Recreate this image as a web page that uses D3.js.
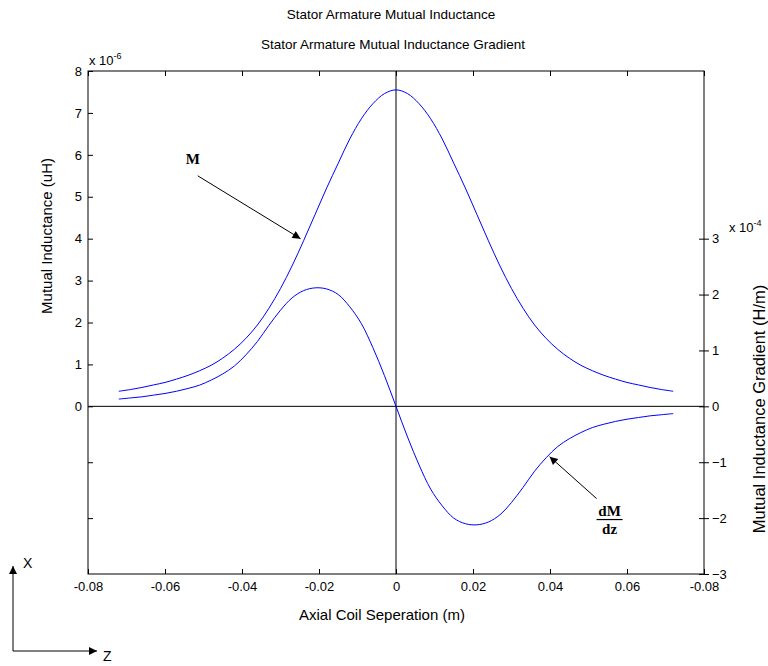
<!DOCTYPE html>
<html>
<head>
<meta charset="utf-8">
<script src="https://cdn.jsdelivr.net/npm/d3@7/dist/d3.min.js"></script>
<style>
  body { margin: 0; background: #fff; }
  text { font-family: "Liberation Sans", Arial, sans-serif; font-size: 13px; fill: #000; }
  .ann { font-family: "Liberation Serif", "DejaVu Serif", serif; font-weight: bold; font-size: 15px; }
</style>
</head>
<body>
<div id="chart"></div>
<script>
// axial position (m), shared by both curves
var zPos = [-0.072, -0.069, -0.066, -0.063, -0.060, -0.057, -0.054, -0.051, -0.048, -0.045,
  -0.042, -0.039, -0.036, -0.033, -0.030, -0.027, -0.024, -0.021, -0.018, -0.015, -0.012,
  -0.009, -0.006, -0.003, 0, 0.003, 0.006, 0.009, 0.012, 0.015, 0.018, 0.021, 0.024, 0.027,
  0.030, 0.033, 0.036, 0.039, 0.042, 0.045, 0.048, 0.051, 0.054, 0.057, 0.060, 0.063, 0.066,
  0.069, 0.072];

// mutual inductance, x 1e-6
var mutual = [0.36, 0.40, 0.45, 0.51, 0.57, 0.65, 0.74, 0.85, 0.98, 1.15,
  1.36, 1.62, 1.94, 2.34, 2.81, 3.35, 3.95, 4.58, 5.21, 5.80, 6.38,
  6.86, 7.22, 7.46, 7.55, 7.46, 7.22, 6.86, 6.38, 5.80, 5.21, 4.58, 3.95, 3.35,
  2.81, 2.34, 1.94, 1.62, 1.36, 1.15, 0.98, 0.85, 0.74, 0.65, 0.57, 0.51, 0.45,
  0.40, 0.36];

// gradient dM/dz, x 1e-4
var gradient = [0.13, 0.15, 0.17, 0.20, 0.23, 0.27, 0.32, 0.38, 0.47, 0.58,
  0.72, 0.92, 1.16, 1.45, 1.72, 1.94, 2.07, 2.12, 2.10, 2.00, 1.78,
  1.48, 1.05, 0.55, 0, -0.55, -1.05, -1.48, -1.78, -2.00, -2.10, -2.12, -2.07, -1.94,
  -1.72, -1.45, -1.16, -0.92, -0.72, -0.58, -0.47, -0.38, -0.32, -0.27, -0.23, -0.20, -0.17,
  -0.15, -0.13];

var xTicks = [-0.08, -0.06, -0.04, -0.02, 0, 0.02, 0.04, 0.06, 0.08];
var xTickLabels = ["-0.08", "-0.06", "-0.04", "-0.02", "0", "0.02", "0.04", "0.06", "-0.08"];
var leftTicks = [0, 1, 2, 3, 4, 5, 6, 7, 8];
var rightTicks = [-3, -2, -1, 0, 1, 2, 3];
var leftExtraTicks = [-1, -2];   // right-axis ticks repeated on the left side

var svg_dx = 768, svg_dy = 666;
var box = { left: 88, right: 704, top: 71, bottom: 574 };

var x = d3.scaleLinear().domain([-0.08, 0.08]).range([box.left, box.right]);
var yL = d3.scaleLinear().domain([-4, 8]).range([box.bottom, box.top]);
var yR = d3.scaleLinear().domain([-3, 6]).range([box.bottom, box.top]);

var svg = d3.select("#chart").append("svg")
  .attr("width", svg_dx)
  .attr("height", svg_dy);

var defs = svg.append("defs");
defs.append("marker")
  .attr("id", "head")
  .attr("viewBox", "0 0 10 10")
  .attr("refX", 10).attr("refY", 5)
  .attr("markerWidth", 12).attr("markerHeight", 8)
  .attr("markerUnits", "userSpaceOnUse")
  .attr("orient", "auto")
  .append("path").attr("d", "M0,0 L10,5 L0,10 z").attr("fill", "#000");

// titles
svg.append("text").attr("x", 391).attr("y", 19).attr("text-anchor", "middle")
  .style("font-size", "13.5px").text("Stator Armature Mutual Inductance");
svg.append("text").attr("x", 393).attr("y", 49).attr("text-anchor", "middle")
  .style("font-size", "13.5px").text("Stator Armature Mutual Inductance Gradient");

// axes
function clean(g) { g.select(".domain").remove(); g.selectAll("text").attr("font-size", null).attr("font-family", null); }

svg.append("g")
  .attr("transform", "translate(0," + box.bottom + ")")
  .call(d3.axisBottom(x).tickValues(xTicks).tickSize(-5).tickSizeOuter(0).tickPadding(8)
    .tickFormat(function(d, i) { return xTickLabels[i]; }))
  .call(clean);

svg.append("g")
  .attr("transform", "translate(0," + box.top + ")")
  .call(d3.axisTop(x).tickValues(xTicks).tickSize(-5).tickSizeOuter(0).tickFormat(""))
  .call(clean);

svg.append("g")
  .attr("transform", "translate(" + box.left + ",0)")
  .call(d3.axisLeft(yL).tickValues(leftTicks).tickSize(-5).tickSizeOuter(0).tickPadding(6))
  .call(clean);

svg.append("g")
  .attr("transform", "translate(" + box.left + ",0)")
  .call(d3.axisLeft(yR).tickValues(leftExtraTicks).tickSize(-5).tickSizeOuter(0).tickFormat(""))
  .call(clean);

svg.append("g")
  .attr("transform", "translate(" + box.right + ",0)")
  .call(d3.axisRight(yR).tickValues(rightTicks).tickSize(5).tickSizeOuter(0).tickPadding(3))
  .call(clean);

svg.append("g")
  .attr("transform", "translate(" + box.right + ",0)")
  .call(d3.axisRight(yR).tickValues(rightTicks).tickSize(-5).tickSizeOuter(0).tickFormat(""))
  .call(clean);

svg.selectAll(".tick line").attr("stroke", "#000");

// plot box
svg.append("rect")
  .attr("x", box.left).attr("y", box.top)
  .attr("width", box.right - box.left).attr("height", box.bottom - box.top)
  .attr("fill", "none").attr("stroke", "#000").attr("stroke-width", 1);

// zero lines
svg.append("line")
  .attr("x1", box.left).attr("x2", box.right)
  .attr("y1", yL(0)).attr("y2", yL(0))
  .attr("stroke", "#000");
svg.append("line")
  .attr("x1", x(0)).attr("x2", x(0))
  .attr("y1", box.top).attr("y2", box.bottom)
  .attr("stroke", "#000");

// exponent labels
var e1 = svg.append("text").attr("x", box.left + 1).attr("y", 65);
e1.append("tspan").text("x 10");
e1.append("tspan").attr("dy", -6).attr("font-size", "9px").text("-6");
var e2 = svg.append("text").attr("x", 729).attr("y", 232);
e2.append("tspan").text("x 10");
e2.append("tspan").attr("dy", -6).attr("font-size", "9px").text("-4");

// axis labels
svg.append("text").attr("x", 299).attr("y", 620)
  .style("font-size", "15px").text("Axial Coil Seperation (m)");
svg.append("text").attr("transform", "translate(52,236) rotate(-90)").attr("text-anchor", "middle")
  .style("font-size", "15px").text("Mutual Inductance (uH)");
svg.append("text").attr("transform", "translate(765,409) rotate(-90)").attr("text-anchor", "middle")
  .style("font-size", "16.5px").text("Mutual Inductance Gradient (H/m)");

// curves
var lineM = d3.line()
  .curve(d3.curveCatmullRom)
  .x(function(d, i) { return x(zPos[i]); })
  .y(function(d) { return yL(d); });
var lineG = d3.line()
  .curve(d3.curveCatmullRom)
  .x(function(d, i) { return x(zPos[i]); })
  .y(function(d) { return yR(d); });

svg.append("path").datum(mutual)
  .attr("d", lineM).attr("fill", "none").attr("stroke", "#0000ff").attr("stroke-width", 1);
svg.append("path").datum(gradient)
  .attr("d", lineG).attr("fill", "none").attr("stroke", "#0000ff").attr("stroke-width", 1);

// annotation arrows (data coordinates)
var mFrom = [x(-0.0515), yL(5.5)], mTo = [x(-0.0248), yL(4.0)];
svg.append("line")
  .attr("x1", mFrom[0]).attr("y1", mFrom[1]).attr("x2", mTo[0]).attr("y2", mTo[1])
  .attr("stroke", "#000").attr("marker-end", "url(#head)");
svg.append("text").attr("class", "ann").attr("x", mFrom[0] - 5).attr("y", mFrom[1] - 12)
  .attr("text-anchor", "middle").text("M");

var gFrom = [x(0.0521), yR(-1.65)], gTo = [x(0.0399), yR(-0.9)];
svg.append("line")
  .attr("x1", gFrom[0]).attr("y1", gFrom[1]).attr("x2", gTo[0]).attr("y2", gTo[1])
  .attr("stroke", "#000").attr("marker-end", "url(#head)");
var fx = gFrom[0] + 13, fy = gFrom[1] + 20;
svg.append("text").attr("class", "ann").attr("x", fx).attr("y", fy - 3)
  .attr("text-anchor", "middle").text("dM");
svg.append("line").attr("x1", fx - 13).attr("x2", fx + 13).attr("y1", fy + 1).attr("y2", fy + 1)
  .attr("stroke", "#000").attr("stroke-width", 1.2);
svg.append("text").attr("class", "ann").attr("x", fx).attr("y", fy + 15)
  .attr("text-anchor", "middle").text("dz");

// coordinate frame sketch at bottom-left
svg.append("line").attr("x1", 13).attr("y1", 651).attr("x2", 13).attr("y2", 566)
  .attr("stroke", "#000").attr("marker-end", "url(#head)");
svg.append("line").attr("x1", 13).attr("y1", 651).attr("x2", 97).attr("y2", 651)
  .attr("stroke", "#000").attr("marker-end", "url(#head)");
svg.append("text").attr("x", 23).attr("y", 568).style("font-size", "14px").text("X");
svg.append("text").attr("x", 103).attr("y", 661).style("font-size", "14px").text("Z");
</script>
</body>
</html>
